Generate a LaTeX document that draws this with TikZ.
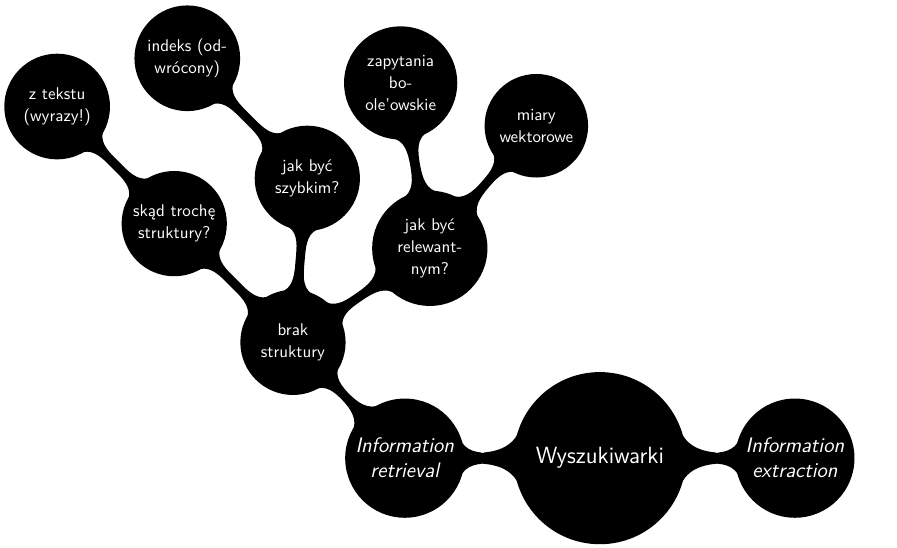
\documentclass[tikz,border=0pt]{standalone}
\usepackage{fontspec}
\usetikzlibrary{mindmap}

\begin{document}
\begin{tikzpicture}[
  mindmap, concept color=black, text=white,
  rootc/.style = {concept, minimum size=3.7cm, text width=3.2cm,
                  inner sep=1pt, align=center,
                  font=\sffamily\fontsize{14.5}{17}\selectfont},
 lvlone/.style = {concept, minimum size=2.52cm, text width=2.3cm,
                  inner sep=1pt, align=center,
                  font=\sffamily\fontsize{13}{15.5}\selectfont\itshape},
 lvltwo/.style = {concept, minimum size=2.17cm, text width=2cm,
                  inner sep=1pt, align=center,
                  font=\sffamily\fontsize{10.5}{13.5}\selectfont},
 barone/.style = {circle connection bar, line width=4pt},
 bartwo/.style = {circle connection bar, line width=2pt}
                        ]
\useasboundingbox (0,0) rectangle (19.5,-11.913);
    % concepts
\node (root)   [rootc]  at (13.04,-9.96)                  {Wyszukiwarki};
\node (ir)     [lvlone] at ([shift={(180:4.24)}] root)    {Information\\retrieval};
\node (ie)     [lvlone] at ([shift={(0:4.24)}] root)      {Information\\extraction};
\node (brak)   [lvltwo] at ([shift={(134:3.5)}] ir)       {brak\\struktury};
\node (skad)   [lvltwo] at ([shift={(135:3.65)}] brak)    {skąd trochę\\struktury?};
\node (ztek)   [lvltwo] at ([shift={(135:3.6)}] skad)     {z tekstu\\(wyrazy!)};
\node (szyb)   [lvltwo] at ([shift={(85:3.58)}] brak)     {jak być\\szybkim?};
\node (indeks) [lvltwo] at ([shift={(135:3.69)}] szyb)    {indeks (od-\\wrócony)};
\node (relew)  [lvltwo] at ([shift={(34.5:3.61)}] brak)   {jak być\\relewant-\\nym?};
\node (zapyt)  [lvltwo] at ([shift={(100:3.65)}] relew)   {zapytania\\bo-\\ole'owskie};
\node (miary)  [lvltwo] at ([shift={(49:3.53)}] relew)    {miary\\wektorowe};
    % connection bars
\path (root)  to[barone] (ir);
\path (root)  to[barone] (ie);
\path (ir)    to[bartwo] (brak);
\path (brak)  to[bartwo] (skad);
\path (brak)  to[bartwo] (szyb);
\path (brak)  to[bartwo] (relew);
\path (skad)  to[bartwo] (ztek);
\path (szyb)  to[bartwo] (indeks);
\path (relew) to[bartwo] (zapyt);
\path (relew) to[bartwo] (miary);
\end{tikzpicture}
\end{document}
